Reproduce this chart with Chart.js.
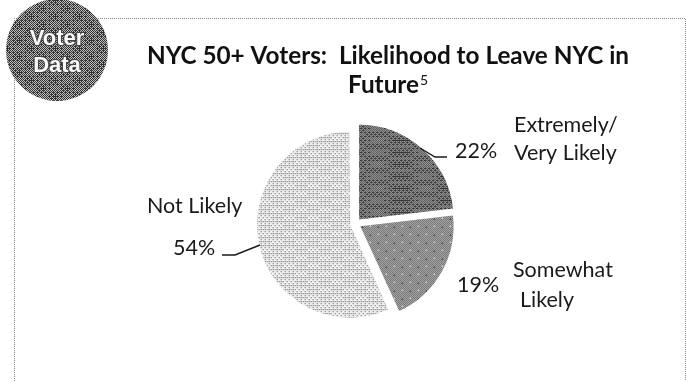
<!DOCTYPE html>
<html>
<head>
<meta charset="utf-8">
<title>NYC 50+ Voters</title>
<script src="https://cdn.jsdelivr.net/npm/chart.js@4"></script>
<style>
  html, body { margin: 0; padding: 0; background: #fff; }
  #wrap { position: relative; width: 686px; height: 381px; }
</style>
</head>
<body>
<div id="wrap"><canvas id="pie"></canvas></div>
<script>
const categories = ["Extremely/ Very Likely", "Somewhat Likely", "Not Likely"];
const shares = [22, 19, 54];
const titleLines = ["NYC 50+ Voters:  Likelihood to Leave NYC in", "Future"];
const titleNote = "5";
const badgeLines = ["Voter", "Data"];

const FONT = 'Lato, "Open Sans", sans-serif';
const BAYER = [
  [0, 8, 2, 10],
  [12, 4, 14, 6],
  [3, 11, 1, 9],
  [15, 7, 13, 5],
];

// Halftone tile: level is the ink amount, wave bends it into the scanned moire look
const halftone = (level, wave, periodX, periodY, dark, light) => {
  const size = 48;
  const tile = document.createElement("canvas");
  tile.width = size;
  tile.height = size;
  const tileCtx = tile.getContext("2d");
  const img = tileCtx.createImageData(size, size);
  for (let y = 0; y < size; y++) {
    for (let x = 0; x < size; x++) {
      const ink =
        level +
        wave *
          Math.sin((2 * Math.PI * x) / periodX) *
          Math.cos((2 * Math.PI * y) / periodY);
      const black = ink > (BAYER[y % 4][x % 4] + 0.5) / 16;
      const i = (y * size + x) * 4;
      const grey = black ? dark : light;
      img.data[i] = img.data[i + 1] = img.data[i + 2] = grey;
      img.data[i + 3] = 255;
    }
  }
  tileCtx.putImageData(img, 0, 0);
  return document.createElement("canvas").getContext("2d").createPattern(tile, "repeat");
};

const drawText = (ctx, text, x, y, font, color) => {
  ctx.font = font;
  ctx.fillStyle = color;
  ctx.textAlign = "left";
  ctx.textBaseline = "alphabetic";
  ctx.fillText(text, x, y);
};

const leader = (ctx, points) => {
  ctx.beginPath();
  points.forEach(([x, y], i) => (i ? ctx.lineTo(x, y) : ctx.moveTo(x, y)));
  ctx.strokeStyle = "#1a1a1a";
  ctx.lineWidth = 1.4;
  ctx.stroke();
};

// Chart.js grows arcs wider than 180deg by the offset, so trim them back per slice
const arcRadii = [94.5, 93, 87.5];
const radiiPlugin = {
  id: "radii",
  beforeDatasetsDraw(chart) {
    chart.getDatasetMeta(0).data.forEach((arc, i) => {
      arc.outerRadius = arcRadii[i];
    });
  },
};

// Dotted frame and round badge sit behind the pie, titles and labels on top
const framePlugin = {
  id: "frame",
  beforeDraw(chart) {
    const ctx = chart.ctx;
    ctx.save();
    ctx.fillStyle = "#fff";
    ctx.fillRect(0, 0, chart.width, chart.height);
    ctx.strokeStyle = "#888";
    ctx.lineWidth = 1;
    ctx.setLineDash([1, 1]);
    ctx.beginPath();
    ctx.moveTo(14.5, 381);
    ctx.lineTo(14.5, 18.5);
    ctx.lineTo(685.5, 18.5);
    ctx.lineTo(685.5, 381);
    ctx.stroke();
    ctx.setLineDash([]);

    ctx.beginPath();
    ctx.arc(57, 50, 51, 0, Math.PI * 2);
    ctx.fillStyle = halftone(0.56, 0.1, 24, 16, 50, 190);
    ctx.fill();

    ctx.textAlign = "center";
    ctx.font = 'bold 22px "Liberation Sans Narrow", "Liberation Sans", sans-serif';
    ctx.lineWidth = 2;
    ctx.strokeStyle = "#444";
    ctx.fillStyle = "#fafafa";
    badgeLines.forEach((line, i) => {
      ctx.strokeText(line, 57, 45 + i * 27);
      ctx.fillText(line, 57, 45 + i * 27);
    });
    ctx.restore();
  },
  afterDraw(chart) {
    const ctx = chart.ctx;
    ctx.save();
    const titleFont = "bold 24.3px " + FONT;
    ctx.font = titleFont;
    const firstWidth = ctx.measureText(titleLines[0]).width;
    const lastWidth = ctx.measureText(titleLines[1]).width;
    drawText(ctx, titleLines[0], 388 - firstWidth / 2, 64, titleFont, "#111");
    drawText(ctx, titleLines[1], 348, 93, titleFont, "#111");
    drawText(ctx, titleNote, 348 + lastWidth + 1, 85, "14px " + FONT, "#111");

    const labelFont = "21.5px " + FONT;
    const ink = "#1a1a1a";
    drawText(ctx, "Extremely/", 514, 132, labelFont, ink);
    drawText(ctx, shares[0] + "%", 455, 158, labelFont, ink);
    drawText(ctx, "Very Likely", 514, 160, labelFont, ink);
    drawText(ctx, "Somewhat", 513, 277, labelFont, ink);
    drawText(ctx, shares[1] + "%", 457, 292, labelFont, ink);
    drawText(ctx, "Likely", 520, 307, labelFont, ink);
    drawText(ctx, "Not Likely", 147, 213, labelFont, ink);
    drawText(ctx, shares[2] + "%", 173, 255, labelFont, ink);

    leader(ctx, [[420, 148], [435, 157], [447, 157]]);
    leader(ctx, [[222, 255], [235, 255], [260, 245]]);
    ctx.restore();
  },
};

const ctx = document.getElementById("pie").getContext("2d");
new Chart(ctx, {
  type: "pie",
  data: {
    labels: categories,
    datasets: [
      {
        data: shares,
        backgroundColor: [
          halftone(0.6, 0.1, 48, 12, 50, 190),
          halftone(0.5, 0.05, 16, 16, 70, 215),
          halftone(0.17, 0.07, 24, 16, 90, 240),
        ],
        borderWidth: 0,
        // arcs shift by a quarter of this, so 22 pulls each slice out about 5.5px
        offset: 22,
      },
    ],
  },
  options: {
    responsive: true,
    maintainAspectRatio: false,
    animation: false,
    layout: { padding: { left: 25, top: 66 } },
    plugins: {
      legend: { display: false },
      tooltip: { enabled: false },
    },
  },
  plugins: [framePlugin, radiiPlugin],
});
</script>
</body>
</html>
